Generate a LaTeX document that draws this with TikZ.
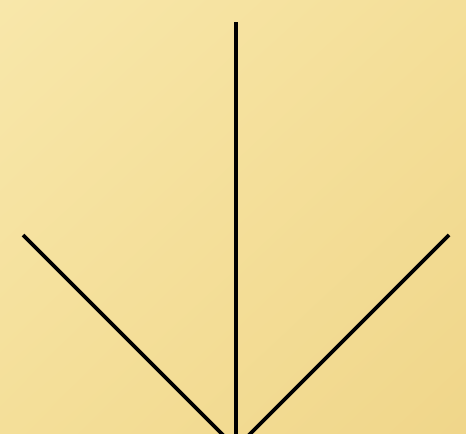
\documentclass[tikz,border=0pt]{standalone}
\usepackage{xcolor}
\usepackage{tikz}
\usetikzlibrary{shadings}
\definecolor{paleA}{HTML}{F8E7AA}
\definecolor{paleM}{HTML}{F4DF99}
\definecolor{paleB}{HTML}{F0D68A}

\begin{document}
\begin{tikzpicture}[x=0.02cm,y=-0.02cm]
\clip (0,0) rectangle (466,433);
\shade[upper left=paleA,upper right=paleM,lower left=paleM,lower right=paleB] (0,0) rectangle (466,433);
\coordinate (tip) at (236,448);
\coordinate (top) at (236,22);
\coordinate (lft) at (23,235);
\coordinate (rgt) at (449,235);
\draw[line width=2.1pt] (top) -- (tip);
\draw[line width=2.1pt] (lft) -- (tip);
\draw[line width=2.1pt] (rgt) -- (tip);
\end{tikzpicture}
\end{document}
